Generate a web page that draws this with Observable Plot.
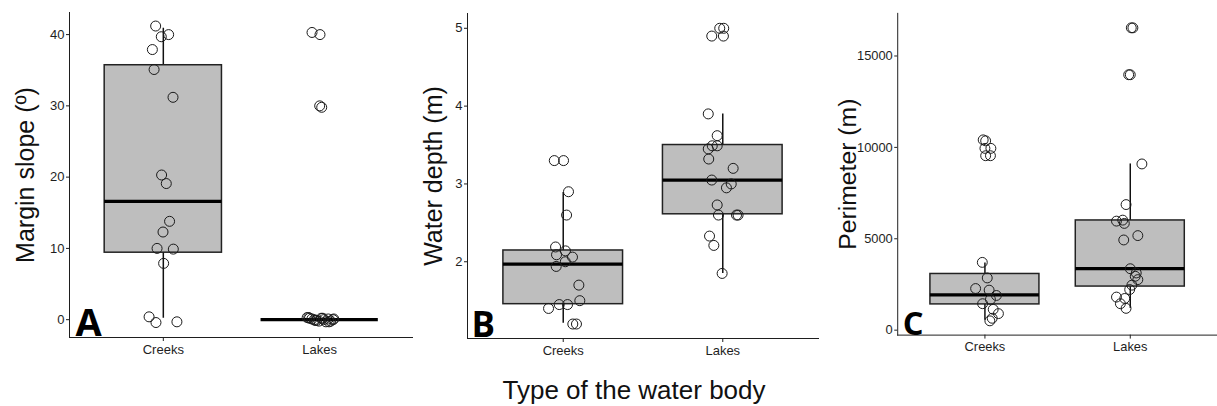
<!DOCTYPE html>
<html>
<head>
<meta charset="utf-8">
<script src="https://cdn.jsdelivr.net/npm/d3@7"></script>
<script src="https://cdn.jsdelivr.net/npm/@observablehq/plot@0.6"></script>
<style>
  html, body { margin: 0; padding: 0; background: #fff; overflow: hidden; width: 1217px; height: 406px; }
  #wrap { position: relative; width: 1217px; height: 406px; font-family: "Liberation Sans", Arial, sans-serif; }
  .panel { position: absolute; top: 0; }
  #title { position: absolute; left: 434px; width: 400px; top: 375px; text-align: center; font-size: 26px; line-height: 30px; color: #111; }
</style>
</head>
<body>
<div id="wrap">
  <div class="panel" id="pA" style="left:0px"></div>
  <div class="panel" id="pB" style="left:413px"></div>
  <div class="panel" id="pC" style="left:819px"></div>
  <div id="title">Type of the water body</div>
</div>
<script>
// ---------- Data ----------
const categories = ["Creeks", "Lakes"];

// Panel A: margin slope (º)
const slopeCreeks = [41.2, 40.0, 39.7, 37.9, 35.1, 31.2, 20.3, 19.1, 13.8, 12.3, 10.0, 9.9, 7.9, 0.4, -0.4, -0.3];
const slopeCreeksJitter = [-0.049, 0.034, -0.013, -0.07, -0.059, 0.062, -0.011, 0.019, 0.04, -0.002, -0.04, 0.064, 0.002, -0.091, -0.047, 0.087];
const slopeLakes = [40.3, 40.0, 30.0, 29.8, 0.3, 0.2, 0.1, 0.0, -0.1, -0.2, 0.2, 0.0, -0.3, 0.1, -0.2, 0.0, 0.3, -0.1, 0.2, -0.3, 0.1];
const slopeLakesJitter = [-0.049, 0.002, 0.0, 0.013, -0.08, -0.065, -0.05, -0.035, -0.02, -0.005, 0.01, 0.025, 0.04, 0.055, 0.07, 0.085, -0.07, -0.03, 0.02, 0.06, 0.09];
// box stats: [lower whisker, Q1, median, Q3, upper whisker]
const slopeBoxCreeks = [0.2, 9.4, 16.6, 35.7, 40.9];
const slopeBoxLakes = [0, 0, 0, 0, 0];

// Panel B: water depth (m)
const depthCreeks = [3.30, 3.30, 2.90, 2.60, 2.19, 2.14, 2.09, 2.06, 2.00, 1.94, 1.70, 1.50, 1.45, 1.45, 1.40, 1.20, 1.20];
const depthCreeksJitter = [-0.056, 0.002, 0.033, 0.021, -0.048, 0.014, -0.042, 0.058, 0.013, -0.044, 0.098, 0.104, -0.025, 0.027, -0.092, 0.06, 0.083];
const depthLakes = [5.00, 5.00, 4.90, 4.90, 3.90, 3.62, 3.49, 3.49, 3.45, 3.32, 3.20, 3.05, 3.00, 2.95, 2.73, 2.60, 2.60, 2.60, 2.33, 2.21, 1.85];
const depthLakesJitter = [-0.019, 0.006, -0.069, 0.004, -0.091, -0.035, -0.066, -0.035, -0.091, -0.088, 0.065, -0.069, 0.053, 0.023, -0.035, -0.027, 0.086, 0.096, -0.083, -0.056, -0.004];
const depthBoxCreeks = [1.21, 1.455, 1.97, 2.145, 2.89];
const depthBoxLakes = [1.85, 2.61, 3.05, 3.50, 3.90];

// Panel C: perimeter (m)
const perimCreeks = [10412, 10358, 9946, 9946, 9544, 9544, 3709, 2858, 2278, 2191, 1898, 1681, 1448, 1139, 906, 651, 510];
const perimCreeksJitter = [-0.012, 0.005, 0.0, 0.041, 0.005, 0.038, -0.018, 0.016, -0.064, 0.029, 0.079, 0.038, -0.016, 0.057, 0.093, 0.05, 0.034];
const perimLakes = [16540, 16540, 13975, 13975, 9094, 6871, 5966, 6020, 5841, 5174, 4935, 3362, 3129, 2950, 2766, 2462, 2223, 1811, 1735, 1448, 1193];
const perimLakesJitter = [0.007, 0.018, -0.011, 0.0, 0.08, -0.029, -0.095, -0.052, -0.041, 0.052, -0.045, 0.0, 0.041, 0.034, 0.052, 0.011, -0.004, -0.095, -0.038, -0.068, -0.029];
const perimBoxCreeks = [542, 1410, 1936, 3075, 3671];
const perimBoxLakes = [1193, 2386, 3362, 6003, 9094];

// tick values and titles
const slopeTicks = [0, 10, 20, 30, 40];
const depthTicks = [2, 3, 4, 5];
const perimTicks = [0, 5000, 10000, 15000];
const yTitles = ["Margin slope (º)", "Water depth (m)", "Perimeter (m)"];
const panelLetters = ["A", "B", "C"];

// ---------- Helpers ----------
function pts(valsC, jitC, valsL, jitL) {
  return [
    ...valsC.map((v, k) => ({i: 1, v, j: jitC[k]})),
    ...valsL.map((v, k) => ({i: 2, v, j: jitL[k]}))
  ];
}
function stats(bc, bl) {
  return [bc, bl].map((s, k) => ({i: k + 1, lo: s[0], q1: s[1], med: s[2], q3: s[3], hi: s[4]}));
}

function panel(cfg) {
  const halfW = 0.375;
  const ink = "#1e1e1e";
  return Plot.plot({
    width: cfg.width,
    height: 362,
    marginLeft: cfg.marginLeft,
    marginRight: cfg.marginRight,
    marginTop: cfg.marginTop,
    marginBottom: cfg.marginBottom,
    style: {fontFamily: "Liberation Sans, Arial, sans-serif", fontSize: "13px", color: ink, background: "white", overflow: "visible"},
    x: {domain: [0.4, 2.6], ticks: [1, 2], tickFormat: d => categories[d - 1], tickSize: 4, tickPadding: 3, line: true, label: null},
    y: {domain: cfg.yDomain, ticks: cfg.ticks, tickFormat: d => String(d), tickSize: 3, tickPadding: 2, line: true, label: null},
    marks: [
      Plot.ruleX(cfg.stats, {x: "i", y1: "lo", y2: "hi", stroke: "#111", strokeWidth: 1.5}),
      Plot.rect(cfg.stats, {x1: d => d.i - halfW, x2: d => d.i + halfW, y1: "q1", y2: "q3", fill: "#bebebe", stroke: "#222", strokeWidth: 1.5}),
      Plot.ruleY(cfg.stats, {y: "med", x1: d => d.i - halfW, x2: d => d.i + halfW, stroke: "#000", strokeWidth: 3.3}),
      Plot.dot(cfg.points, {x: d => d.i + d.j, y: "v", r: 5, stroke: "#1a1a1a", strokeWidth: 1, fill: "none"}),
      Plot.text([cfg.title], {frameAnchor: "left", rotate: -90, dx: cfg.titleDx, text: d => d, fontSize: 25, fill: "#111", textAnchor: "middle"}),
      Plot.text([cfg.letter], {frameAnchor: "bottom-left", dx: cfg.letterDx, dy: cfg.letterDy, text: d => d, fontSize: cfg.letterSize, fontWeight: "bold", fontFamily: "Open Sans, DejaVu Sans, sans-serif", fill: "#000", textAnchor: "start", lineAnchor: "bottom"})
    ]
  });
}

document.getElementById("pA").append(panel({
  width: 413, marginLeft: 69, marginRight: 0, marginTop: 12, marginBottom: 25,
  yDomain: [-2.5, 43.1], ticks: slopeTicks,
  stats: stats(slopeBoxCreeks, slopeBoxLakes),
  points: pts(slopeCreeks, slopeCreeksJitter, slopeLakes, slopeLakesJitter),
  title: yTitles[0], titleDx: -44, letter: panelLetters[0], letterDx: 6, letterDy: -2, letterSize: 38
}));
document.getElementById("pB").append(panel({
  width: 405, marginLeft: 54, marginRight: 0, marginTop: 13, marginBottom: 24,
  yDomain: [1.014, 5.19], ticks: depthTicks,
  stats: stats(depthBoxCreeks, depthBoxLakes),
  points: pts(depthCreeks, depthCreeksJitter, depthLakes, depthLakesJitter),
  title: yTitles[1], titleDx: -34, letter: panelLetters[1], letterDx: 4, letterDy: -2, letterSize: 35
}));
document.getElementById("pC").append(panel({
  width: 402, marginLeft: 79, marginRight: 0, marginTop: 13, marginBottom: 24,
  yDomain: [-271, 17332], ticks: perimTicks,
  stats: stats(perimBoxCreeks, perimBoxLakes),
  points: pts(perimCreeks, perimCreeksJitter, perimLakes, perimLakesJitter),
  title: yTitles[2], titleDx: -50, letter: panelLetters[2], letterDx: 5, letterDy: 0, letterSize: 33
}));
</script>
</body>
</html>
